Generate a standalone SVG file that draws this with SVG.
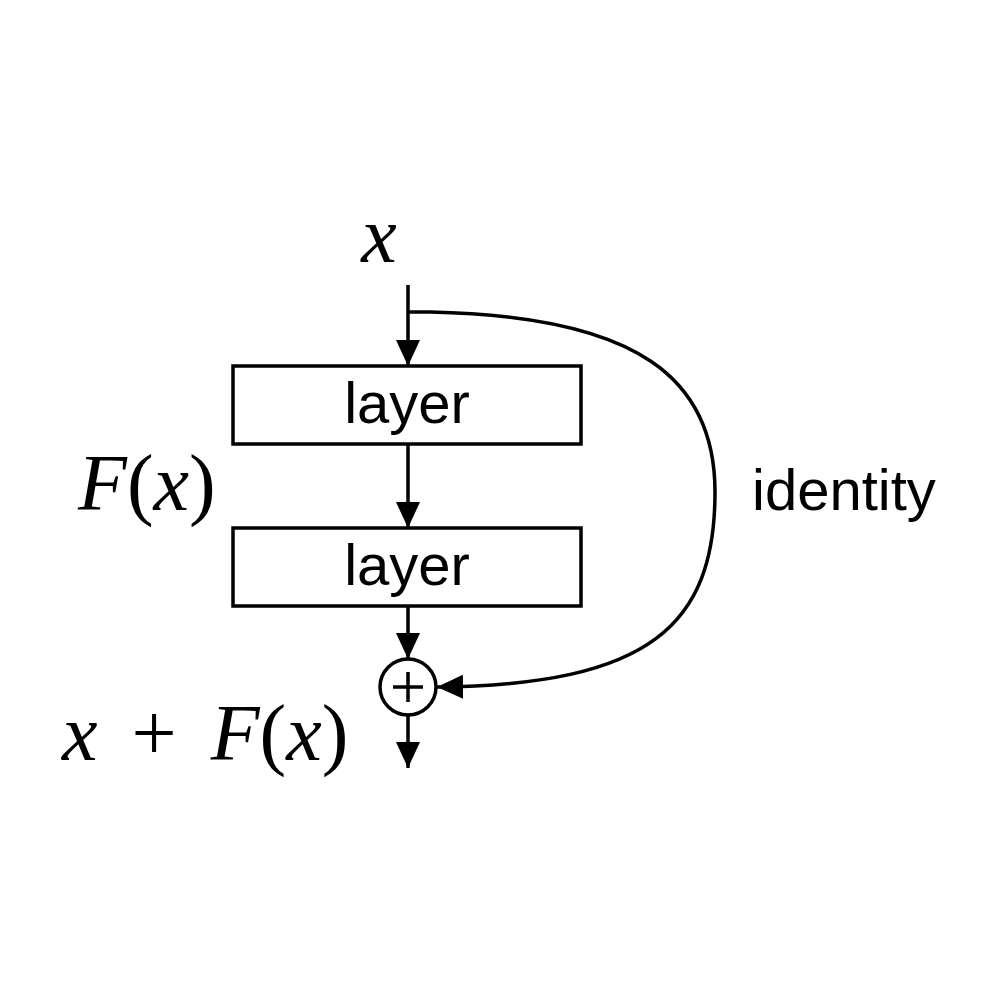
<svg xmlns="http://www.w3.org/2000/svg" width="1000" height="1000" viewBox="0 0 1000 1000">
<style>
.box{fill:#fff;stroke:#000;stroke-width:3.5}
.ln{fill:none;stroke:#000;stroke-width:3.5}
.s{font-family:"Liberation Sans",Arial,sans-serif;font-size:58px;fill:#000}
.m{font-family:"Liberation Serif","Times New Roman",serif;font-size:80px;fill:#000}
</style>
<defs><marker id="a" markerUnits="userSpaceOnUse" markerWidth="26" markerHeight="24" refX="26" refY="12" orient="auto"><path d="M0,0 L26,12 L0,24 Z" fill="#000"/></marker></defs>
<rect width="1000" height="1000" fill="#fff"/>
<g id="connectors">
<line class="ln" x1="408" y1="285" x2="408" y2="366" marker-end="url(#a)"/>
<line class="ln" x1="408" y1="444" x2="408" y2="528" marker-end="url(#a)"/>
<line class="ln" x1="408" y1="606" x2="408" y2="659" marker-end="url(#a)"/>
<line class="ln" x1="408" y1="716" x2="408" y2="768" marker-end="url(#a)"/>
<path class="ln" d="M408,312 L430,312 C640,316 715,380 715,492 C715,625 650,685 437,687" marker-end="url(#a)"/>
</g>
<g id="layer1"><rect class="box" x="233" y="366" width="348" height="78"/><text class="s" x="407" y="423" text-anchor="middle">layer</text></g>
<g id="layer2"><rect class="box" x="233" y="528" width="348" height="78"/><text class="s" x="407" y="585" text-anchor="middle">layer</text></g>
<g id="sum"><circle class="ln" cx="408" cy="687" r="28"/><path class="ln" d="M393,687 H423 M408,672 V702"/></g>
<g id="labels">
<text class="m" x="379" y="262" text-anchor="middle" font-style="italic">x</text>
<text class="m" x="78" y="510"><tspan font-style="italic">F</tspan>(<tspan font-style="italic">x</tspan>)</text>
<text class="m" x="62" y="760" word-spacing="14"><tspan font-style="italic">x</tspan> + <tspan font-style="italic">F</tspan>(<tspan font-style="italic">x</tspan>)</text>
<text class="s" x="752" y="510">identity</text>
</g>
</svg>
